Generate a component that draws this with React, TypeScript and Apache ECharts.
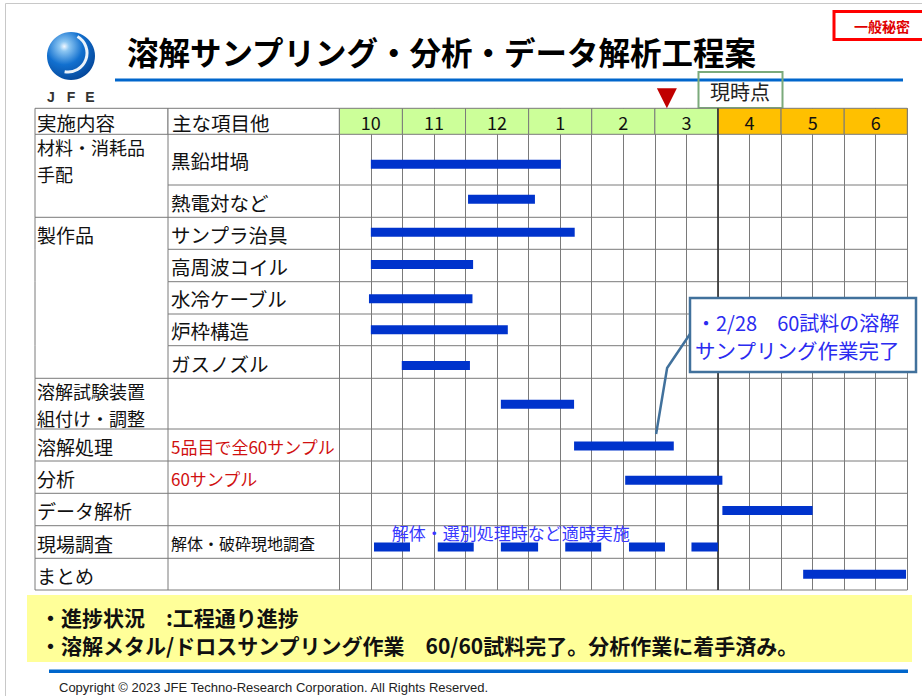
import React, { useEffect, useRef } from 'react';
import * as echarts from 'echarts';

// ---------- data ----------
const titleText = '溶解サンプリング・分析・データ解析工程案';
const months = ['10', '11', '12', '1', '2', '3', '4', '5', '6'];
const monthPlanned = [false, false, false, false, false, false, true, true, true];
const colHeaderLabels = ['実施内容', '主な項目他'];
const groupLabels = [['材料・消耗品', '手配'], ['製作品'], ['溶解試験装置', '組付け・調整'], ['溶解処理'], ['分析'], ['データ解析'], ['現場調査'], ['まとめ']];
const groupFirstRow = [0, 2, 7, 8, 9, 10, 11, 12];
const itemLabels = ['黒鉛坩堝', '熱電対など', 'サンプラ治具', '高周波コイル', '水冷ケーブル', '炉枠構造', 'ガスノズル', '', '5品目で全60サンプル', '60サンプル', '', '解体・破砕現地調査', ''];
const itemKinds = ['main', 'main', 'main', 'main', 'main', 'main', 'main', 'main', 'red', 'red', 'main', 'small', 'main'];
// tasks (x in months counted from the start of October)
const taskRow = [0, 1, 2, 3, 4, 5, 6, 7, 8, 9, 10, 11, 11, 11, 11, 11, 11, 12];
const taskStart = [0.5, 2.04, 0.5, 0.5, 0.47, 0.5, 0.99, 2.56, 3.72, 4.53, 6.07, 0.55, 1.56, 2.56, 3.58, 4.59, 5.58, 7.35];
const taskEnd = [3.51, 3.1, 3.73, 2.12, 2.11, 2.67, 2.07, 3.72, 5.3, 6.07, 7.5, 1.12, 2.13, 3.15, 4.15, 5.16, 6.0, 8.98];
const nowPos = 5.19;
const nowLabel = '現時点';
const calloutPos = 5.02;
const calloutRow = 8;
const calloutLines = ['・2/28　60試料の溶解', 'サンプリング作業完了'];
const fieldNote = '解体・選別処理時など適時実施';
const fieldNoteStart = 0.83;
const fieldNoteRow = 11;
const summaryLines = ['・進捗状況　:工程通り進捗', '・溶解メタル/ドロスサンプリング作業　60/60試料完了。分析作業に着手済み。'];
const confidential = '一般秘密';
const copyright = 'Copyright © 2023 JFE Techno-Research Corporation. All Rights Reserved.';

// ---------- layout ----------
const TABLE_LEFT = 35;
const COL2_LEFT = 168;
const GRID_LEFT = 339.3;
const GRID_TOP = 108.3;
const GRID_W = 568;
const HEADER_H = 26;
const rowHeights = [50.7, 32.3, 32.0, 32.4, 32.3, 31.7, 32.6, 50.7, 32.0, 32.3, 32.4, 32.6, 31.7];
const barOffset = [4.5, -2, -1, -1, 1, 0, 3.5, 0.5, 1, 3, 1, 5, 0];
const rowTops: number[] = [];
{
  let acc = HEADER_H;
  for (const h of rowHeights) { rowTops.push(acc); acc += h; }
}
const TOTAL_H = HEADER_H + rowHeights.reduce((a, b) => a + b, 0);
const JP = "'Noto Sans CJK JP', 'Noto Sans', sans-serif";
const LINE = '#7a7a7a';

const ln = (x1: number, y1: number, x2: number, y2: number, stroke = LINE, w = 1) => ({
  type: 'line', shape: { x1, y1, x2, y2 }, style: { stroke, lineWidth: w },
});

const option: any = {
  animation: false,
  backgroundColor: '#ffffff',
  grid: { left: GRID_LEFT, top: GRID_TOP, width: GRID_W, height: TOTAL_H },
  xAxis: {
    type: 'value', min: 0, max: 9, interval: 0.5,
    axisLabel: { show: false }, axisLine: { show: false }, axisTick: { show: false },
    splitLine: { show: true, lineStyle: { color: LINE, width: 1 } },
  },
  yAxis: {
    type: 'value', inverse: true, min: 0, max: TOTAL_H,
    axisLabel: { show: false }, axisLine: { show: false }, axisTick: { show: false },
    splitLine: { show: false },
  },
  series: [
    {
      type: 'custom', name: 'header', data: months.map((_, i) => [i]),
      renderItem: (_p: any, api: any) => {
        const i = api.value(0);
        const a = api.coord([i, 0]);
        const b = api.coord([i + 1, HEADER_H]);
        return {
          type: 'group', children: [
            { type: 'rect', shape: { x: a[0], y: a[1], width: b[0] - a[0], height: b[1] - a[1] }, style: { fill: monthPlanned[i] ? '#FFC000' : '#CCFF99', stroke: LINE, lineWidth: 1 } },
            { type: 'text', style: { text: months[i], x: (a[0] + b[0]) / 2, y: (a[1] + b[1]) / 2 + 1, align: 'center', verticalAlign: 'middle', fill: '#111', font: `18px ${JP}` } },
          ],
        };
      },
    },
    {
      type: 'custom', name: 'colHeaders', data: [[0]],
      renderItem: (_p: any, api: any) => {
        const a = api.coord([0, 0]);
        const b = api.coord([0, HEADER_H]);
        return {
          type: 'group', children: [
            { type: 'rect', shape: { x: TABLE_LEFT, y: a[1], width: COL2_LEFT - TABLE_LEFT, height: b[1] - a[1] }, style: { fill: '#fff', stroke: LINE, lineWidth: 1 } },
            { type: 'rect', shape: { x: COL2_LEFT, y: a[1], width: a[0] - COL2_LEFT, height: b[1] - a[1] }, style: { fill: '#fff', stroke: LINE, lineWidth: 1 } },
            { type: 'text', style: { text: colHeaderLabels[0], x: TABLE_LEFT + 2, y: (a[1] + b[1]) / 2 + 1, verticalAlign: 'middle', fill: '#111', font: `19.5px ${JP}` } },
            { type: 'text', style: { text: colHeaderLabels[1], x: COL2_LEFT + 4, y: (a[1] + b[1]) / 2 + 1, verticalAlign: 'middle', fill: '#111', font: `19.5px ${JP}` } },
          ],
        };
      },
    },
    {
      type: 'custom', name: 'rows', data: itemLabels.map((_, i) => [i]),
      renderItem: (_p: any, api: any) => {
        const i = api.value(0);
        const top = rowTops[i];
        const h = rowHeights[i];
        const yT = api.coord([0, top])[1];
        const yB = api.coord([0, top + h])[1];
        const xR = api.coord([9, top])[0];
        const yC = (yT + yB) / 2;
        const gi = groupFirstRow.indexOf(i);
        const isEnd = groupFirstRow.includes(i + 1) || i === itemLabels.length - 1;
        const children: any[] = [
          ln(TABLE_LEFT, yT, TABLE_LEFT, yB),
          ln(COL2_LEFT, yT, COL2_LEFT, yB),
          ln(isEnd ? TABLE_LEFT : COL2_LEFT, yB, xR, yB),
        ];
        if (gi >= 0) {
          const lines = groupLabels[gi];
          const multi = lines.length > 1;
          const step = 26.4;
          lines.forEach((t, k) => {
            const y = yC + 1 + (k - (lines.length - 1) / 2) * step;
            children.push({ type: 'text', style: { text: t, x: TABLE_LEFT + 2, y, verticalAlign: 'middle', fill: '#111', font: `${multi ? 18 : 19}px ${JP}` } });
          });
        }
        const kind = itemKinds[i];
        if (itemLabels[i]) {
          children.push({
            type: 'text', style: {
              text: itemLabels[i], x: COL2_LEFT + 3, y: yC + 1, verticalAlign: 'middle',
              fill: kind === 'red' ? '#D01010' : '#111',
              font: kind === 'main' ? `19.5px ${JP}` : kind === 'red' ? `17px ${JP}` : `16px ${JP}`,
            },
          });
        }
        return { type: 'group', children };
      },
    },
    {
      type: 'custom', name: 'planBoundary', data: [[monthPlanned.indexOf(true)]],
      renderItem: (_p: any, api: any) => {
        const x = api.value(0);
        const a = api.coord([x, 0]);
        const b = api.coord([x, TOTAL_H]);
        return ln(a[0], a[1], b[0], b[1], '#333', 1.6);
      },
    },
    {
      type: 'custom', name: 'tasks', data: taskRow.map((r, k) => [taskStart[k], taskEnd[k], r]),
      encode: { x: [0, 1], y: 2 },
      renderItem: (_p: any, api: any) => {
        const s = api.value(0);
        const e = api.value(1);
        const r = api.value(2);
        const yc = rowTops[r] + rowHeights[r] / 2 + barOffset[r];
        const p0 = api.coord([s, yc]);
        const p1 = api.coord([e, yc]);
        return { type: 'rect', shape: { x: p0[0], y: p0[1] - 4.5, width: p1[0] - p0[0], height: 9 }, style: { fill: '#0033CC' } };
      },
    },
    {
      type: 'custom', name: 'fieldNote', data: [[fieldNoteStart, fieldNoteRow]],
      renderItem: (_p: any, api: any) => {
        const p = api.coord([api.value(0), rowTops[api.value(1)] + 7]);
        return { type: 'text', style: { text: fieldNote, x: p[0], y: p[1], verticalAlign: 'middle', fill: '#3838FF', font: `17px ${JP}` } };
      },
    },
    {
      type: 'custom', name: 'callout', data: [[calloutPos, calloutRow]],
      renderItem: (_p: any, api: any) => {
        const t = api.coord([api.value(0), rowTops[api.value(1)] + 5]);
        const bx = 690, by = 298, bw = 226, bh = 74;
        return {
          type: 'group', children: [
            { type: 'polyline', shape: { points: [[t[0], t[1]], [t[0] + 11, 368], [bx, 334]] }, style: { stroke: '#41719C', lineWidth: 2.5, fill: 'none' } },
            { type: 'rect', shape: { x: bx, y: by, width: bw, height: bh }, style: { fill: '#fff', stroke: '#41719C', lineWidth: 2.5 } },
            { type: 'text', style: { text: calloutLines[0], x: bx + 6, y: by + 24, verticalAlign: 'middle', fill: '#2B2BF0', font: `20px ${JP}` } },
            { type: 'text', style: { text: calloutLines[1], x: bx + 5, y: by + 52, verticalAlign: 'middle', fill: '#2B2BF0', font: `20.5px ${JP}` } },
          ],
        };
      },
    },
    {
      type: 'custom', name: 'now', data: [[nowPos]],
      renderItem: (_p: any, api: any) => {
        const p = api.coord([api.value(0), 0]);
        return { type: 'polygon', shape: { points: [[p[0] - 10, p[1] - 20], [p[0] + 10, p[1] - 20], [p[0], p[1]]] }, style: { fill: '#C00000' } };
      },
    },
  ],
  graphic: [
    { type: 'rect', shape: { x: 5.5, y: 3.5, width: 940, height: 720 }, style: { fill: 'none', stroke: '#C8C8C8', lineWidth: 1 }, z: 0 },
    // logo
    {
      type: 'circle', shape: { cx: 71, cy: 56, r: 24 },
      style: { fill: new echarts.graphic.RadialGradient(0.36, 0.3, 0.85, [
        { offset: 0, color: '#F2F8FF' }, { offset: 0.12, color: '#8CC6F2' }, { offset: 0.45, color: '#1270CF' }, { offset: 1, color: '#003A8A' },
      ]) },
    },
    { type: 'arc', shape: { cx: 68, cy: 53, r: 19, startAngle: -1.05, endAngle: 1.75, clockwise: true }, style: { stroke: 'rgba(255,255,255,0.92)', lineWidth: 3, fill: 'none' } },
    { type: 'text', style: { text: 'J', x: 51, y: 97, align: 'center', verticalAlign: 'middle', fill: '#333', font: "bold 14px 'Liberation Sans', sans-serif" } },
    { type: 'text', style: { text: 'F', x: 71, y: 97, align: 'center', verticalAlign: 'middle', fill: '#333', font: "bold 14px 'Liberation Sans', sans-serif" } },
    { type: 'text', style: { text: 'E', x: 90, y: 97, align: 'center', verticalAlign: 'middle', fill: '#333', font: "bold 14px 'Liberation Sans', sans-serif" } },
    // title
    { type: 'text', style: { text: titleText, x: 127, y: 51, verticalAlign: 'middle', fill: '#000', font: `bold 31.5px ${JP}` } },
    { type: 'rect', shape: { x: 115, y: 78.5, width: 788, height: 3 }, style: { fill: '#0066CC' } },
    // confidential
    { type: 'rect', shape: { x: 834, y: 11.5, width: 90, height: 28 }, style: { fill: '#fff', stroke: '#FF0000', lineWidth: 3 } },
    { type: 'text', style: { text: confidential, x: 882, y: 26, align: 'center', verticalAlign: 'middle', fill: '#E00000', font: `bold 14px ${JP}` } },
    // current-time box
    { type: 'rect', shape: { x: 698.5, y: 72, width: 84, height: 36 }, style: { fill: 'none', stroke: '#7BAA7B', lineWidth: 2 } },
    { type: 'text', style: { text: nowLabel, x: 740, y: 91, align: 'center', verticalAlign: 'middle', fill: '#222', font: `20px ${JP}` } },
    // summary
    { type: 'rect', shape: { x: 27, y: 595, width: 885, height: 67 }, style: { fill: '#FFFF99' } },
    { type: 'text', style: { text: summaryLines[0], x: 40, y: 617, verticalAlign: 'middle', fill: '#111', font: `bold 21px ${JP}` } },
    { type: 'text', style: { text: summaryLines[1], x: 40, y: 645, verticalAlign: 'middle', fill: '#111', font: `bold 21px ${JP}` } },
    { type: 'rect', shape: { x: 49, y: 669.5, width: 859, height: 3.5 }, style: { fill: '#0066CC' } },
    { type: 'text', style: { text: copyright, x: 59, y: 687, verticalAlign: 'middle', fill: '#222', font: "13px 'Liberation Sans', sans-serif" } },
  ],
};

export default function App() {
  const ref = useRef<HTMLDivElement>(null);
  useEffect(() => {
    const chart = echarts.init(ref.current!, null, { renderer: 'svg' });
    chart.setOption(option);
    return () => chart.dispose();
  }, []);
  return <div ref={ref} style={{ position: 'fixed', left: 0, top: 0, width: 922, height: 696, background: '#fff' }} />;
}
